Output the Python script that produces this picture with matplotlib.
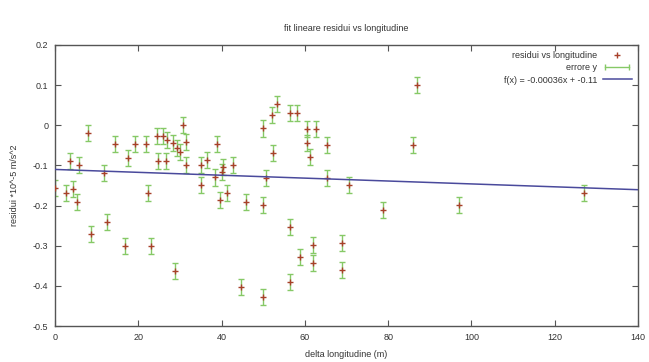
import numpy as np
import matplotlib
matplotlib.use("Agg")
import matplotlib.pyplot as plt
from matplotlib.lines import Line2D
from matplotlib.legend_handler import HandlerLine2D

plt.rcParams["font.family"] = ["Liberation Sans", "DejaVu Sans"]
plt.rcParams["axes.unicode_minus"] = False

# residui vs delta longitudine
delta_long = [0, 2.6, 3.6, 4.2, 5.2, 5.8, 7.9, 8.6, 11.8, 12.4,
              14.4, 16.8, 17.5, 19.2, 21.8, 22.4, 23.0, 24.4, 24.8, 26.0,
              26.7, 26.8, 28.3, 28.7, 29.2, 30.0, 30.6, 31.4, 31.4, 35.1,
              35.1, 36.4, 38.3, 38.8, 39.6, 40.0, 40.4, 41.2, 42.8, 44.6,
              45.9, 50.0, 50.0, 50.0, 50.6, 52.0, 52.3, 53.4, 56.3, 56.3,
              56.3, 58.2, 58.7, 60.4, 60.4, 61.2, 62.7, 62.0, 62.0, 65.4,
              65.2, 68.9, 68.9, 70.7, 78.8, 86.9, 86.0, 96.9, 127.0]
residui = [-0.156, -0.169, -0.089, -0.159, -0.190, -0.099, -0.020, -0.271, -0.118, -0.240,
           -0.047, -0.300, -0.081, -0.047, -0.047, -0.169, -0.300, -0.027, -0.089, -0.027,
           -0.089, -0.037, -0.045, -0.362, -0.057, -0.066, 0.001, -0.041, -0.099, -0.099,
           -0.149, -0.087, -0.130, -0.047, -0.186, -0.116, -0.103, -0.169, -0.099, -0.403,
           -0.190, -0.199, -0.008, -0.428, -0.132, 0.026, -0.068, 0.054, 0.030, -0.253,
           -0.390, 0.030, -0.327, -0.010, -0.045, -0.078, -0.010, -0.298, -0.342, -0.049,
           -0.132, -0.292, -0.361, -0.149, -0.210, 0.100, -0.049, -0.199, -0.169]
errore_y = 0.02

# fit parameters from the legend
slope = -0.00036
intercept = -0.11

fig, ax = plt.subplots(figsize=(6.49, 3.62), dpi=100)
fig.subplots_adjust(left=0.085, right=0.983, top=0.876, bottom=0.099)

green = "#86c966"
red = "#a8402a"
blue = "#4a4a9c"
grey = "#555555"

ax.errorbar(delta_long, residui, yerr=errore_y, fmt="none", ecolor=green,
            elinewidth=1, capsize=2.5, capthick=1, zorder=2)
ax.plot(delta_long, residui, "+", color=red, markersize=4, mew=1.0,
        linestyle="none", zorder=3)

xfit = np.array([0, 140])
ax.plot(xfit, slope * xfit + intercept, color=blue, lw=1.1, zorder=4)

ax.set_xlim(0, 140)
ax.set_ylim(-0.5, 0.2)
ax.set_xticks(np.arange(0, 141, 20))
yt = np.round(np.arange(-0.5, 0.21, 0.1), 1) + 0.0
ax.set_yticks(yt)
ax.set_yticklabels(["0" if abs(v) < 1e-9 else f"{v:g}" for v in yt])

ax.tick_params(direction="in", length=4, width=0.8, top=True, right=True,
               labelsize=6.5, colors=grey, labelcolor="#333333", pad=5)
for s in ax.spines.values():
    s.set_color(grey)
    s.set_linewidth(1)

ax.set_title("fit lineare residui vs longitudine", fontsize=6.5,
             color="#333333", pad=10)
ax.set_xlabel("delta longitudine (m)", fontsize=6.5, color="#333333", labelpad=6)
ax.set_ylabel("residui *10^-5 m/s^2", fontsize=6.5, color="#333333", labelpad=10)

h_pts = Line2D([], [], marker="+", color=red, linestyle="none", markersize=4, mew=1.0)
h_err = Line2D([], [], marker="|", color=green, markersize=4, lw=1)
h_fit = Line2D([], [], color=blue, lw=1.1)
ax.legend([h_pts, h_err, h_fit],
          ["residui vs longitudine", "errore y", "f(x) = -0.00036x + -0.11"],
          loc="upper right", frameon=False, fontsize=6.5, markerfirst=False,
          handlelength=3.2, handletextpad=0.6, labelspacing=0.35,
          borderaxespad=0.3, labelcolor="#333333",
          handler_map={h_err: HandlerLine2D(numpoints=2)})

fig.savefig("out.png", dpi=100)
